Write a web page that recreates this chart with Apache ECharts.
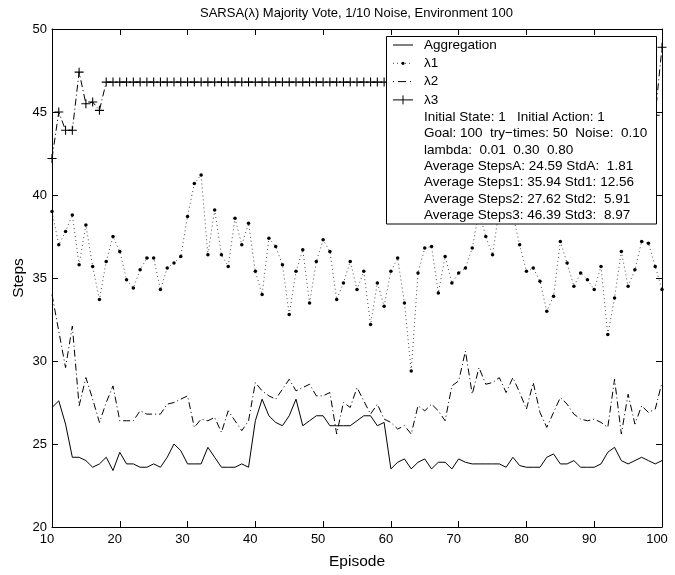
<!DOCTYPE html>
<html>
<head>
<meta charset="utf-8">
<script src="https://cdn.jsdelivr.net/npm/echarts@6/dist/echarts.min.js"></script>
<style>
  html, body { margin: 0; padding: 0; background: #fff; }
  #chart { width: 675px; height: 575px; }
</style>
</head>
<body>
<div id="chart"></div>
<script>
// SARSA(λ) 多数表决 - 各策略每回合步数

const episodes = [10, 11, 12, 13, 14, 15, 16, 17, 18, 19, 20, 21, 22, 23, 24, 25, 26, 27, 28, 29,
    30, 31, 32, 33, 34, 35, 36, 37, 38, 39, 40, 41, 42, 43, 44, 45, 46, 47, 48, 49,
    50, 51, 52, 53, 54, 55, 56, 57, 58, 59, 60, 61, 62, 63, 64, 65, 66, 67, 68, 69,
    70, 71, 72, 73, 74, 75, 76, 77, 78, 79, 80, 81, 82, 83, 84, 85, 86, 87, 88, 89,
    90, 91, 92, 93, 94, 95, 96, 97, 98, 99, 100];

const aggregation = [27.2, 27.6, 26.2, 24.2, 24.2, 24.0, 23.6, 23.8, 24.2, 23.4,
    24.5, 23.8, 23.8, 23.6, 23.6, 23.8, 23.6, 24.2, 25.0, 24.6,
    23.8, 23.8, 23.8, 24.8, 24.2, 23.6, 23.6, 23.6, 23.8, 23.6,
    26.4, 27.7, 26.7, 26.3, 26.1, 26.7, 27.7, 26.1, 26.4, 26.7,
    26.7, 26.1, 26.1, 26.1, 26.1, 26.4, 26.7, 26.7, 26.1, 26.3,
    23.5, 23.9, 24.1, 23.5, 23.9, 24.1, 23.5, 23.9, 23.9, 23.5,
    24.1, 23.9, 23.8, 23.8, 23.8, 23.8, 23.8, 23.6, 24.2, 23.7,
    23.6, 23.6, 23.6, 24.2, 24.4, 23.8, 23.8, 24.0, 23.6, 23.6,
    23.6, 23.8, 24.5, 24.8, 24.0, 23.8, 24.0, 24.2, 24.0, 23.8,
    24.0];

const lambda1 = [39.0, 37.0, 37.8, 38.8, 35.8, 38.2, 35.7, 33.7, 36.0, 37.5,
    36.6, 34.9, 34.4, 35.5, 36.2, 36.2, 34.3, 35.6, 35.9, 36.3,
    38.7, 40.7, 41.2, 36.4, 39.1, 36.4, 35.7, 38.6, 37.0, 38.3,
    35.4, 34.0, 37.4, 36.9, 35.8, 32.8, 35.4, 36.7, 33.5, 36.0,
    37.3, 36.6, 33.7, 34.7, 36.0, 34.3, 35.4, 32.2, 34.7, 33.3,
    35.4, 36.2, 33.5, 29.4, 35.3, 36.8, 36.9, 34.1, 36.3, 34.7,
    35.3, 35.6, 36.8, 39.0, 37.5, 36.4, 39.2, 39.6, 38.8, 37.0,
    35.4, 35.6, 34.8, 33.0, 33.9, 37.2, 35.9, 34.5, 35.3, 34.9,
    34.3, 35.7, 31.6, 33.8, 36.6, 34.5, 35.5, 37.2, 37.1, 35.7,
    34.3];

const lambda2 = [34.0, 31.8, 29.6, 32.1, 27.3, 29.0, 27.7, 26.3, 27.5, 28.5,
    26.4, 26.4, 26.4, 27.0, 26.8, 26.8, 26.8, 27.4, 27.5, 27.7,
    27.9, 26.0, 26.5, 26.4, 26.6, 25.7, 27.0, 26.4, 25.8, 26.4,
    28.7, 28.2, 27.9, 27.7, 28.3, 28.9, 28.2, 28.4, 28.6, 27.9,
    27.9, 28.1, 25.6, 27.5, 27.2, 28.4, 27.6, 26.8, 27.4, 26.5,
    26.3, 25.9, 26.1, 25.6, 27.3, 27.0, 27.4, 27.0, 26.4, 28.5,
    28.8, 30.6, 28.0, 29.6, 28.6, 28.7, 29.0, 28.1, 29.0, 28.1,
    27.1, 28.7, 26.9, 26.0, 26.9, 27.8, 27.4, 26.8, 26.5, 26.4,
    26.5, 26.3, 26.0, 28.9, 25.6, 28.0, 26.2, 27.3, 26.9, 27.1,
    28.7];

const lambda3 = [42.2, 45.0, 43.9, 43.9, 47.4, 45.5, 45.6, 45.1, 46.8, 46.8,
    46.8, 46.8, 46.8, 46.8, 46.8, 46.8, 46.8, 46.8, 46.8, 46.8,
    46.8, 46.8, 46.8, 46.8, 46.8, 46.8, 46.8, 46.8, 46.8, 46.8,
    46.8, 46.8, 46.8, 46.8, 46.8, 46.8, 46.8, 46.8, 46.8, 46.8,
    46.8, 46.8, 46.8, 46.8, 46.8, 46.8, 46.8, 46.8, 46.8, 46.8,
    46.8, 46.8, 46.8, 46.8, 46.8, 46.8, 46.8, 46.8, 46.8, 46.8,
    46.8, 46.8, 46.8, 46.8, 46.8, 46.8, 46.8, 46.8, 46.8, 46.8,
    46.8, 46.8, 46.8, 46.8, 46.8, 46.8, 46.8, 46.8, 46.8, 46.8,
    46.8, 46.8, 46.8, 46.8, 46.8, 46.8, 46.8, 46.8, 46.8, 44.8,
    48.9];

const seriesNames = ['Aggregation', 'λ1', 'λ2', 'λ3'];

const infoLines = [
    'Initial State: 1   Initial Action: 1',
    'Goal: 100  try\u2212times: 50  Noise:  0.10',
    'lambda:  0.01  0.30  0.80',
    'Average StepsA: 24.59 StdA:  1.81',
    'Average Steps1: 35.94 Std1: 12.56',
    'Average Steps2: 27.62 Std2:  5.91',
    'Average Steps3: 46.39 Std3:  8.97'
];

const FONT = '"Liberation Sans", Arial, Helvetica, sans-serif';
const PLUS = 'path://M0,4.4H10V5.6H0ZM4.4,0H5.6V10H4.4Z';
const DASHDOT = [7, 3, 1, 3];

function pairs(ys) {
    return episodes.map(function (x, i) { return [x, ys[i]]; });
}

function initChart() {
    const chart = echarts.init(document.getElementById('chart'), null, { renderer: 'canvas' });

    // 图例框（手绘，位置按原图）
    const boxX = 386.5, boxY = 36.5;
    const sampleX1 = 393, sampleX2 = 413, textX = 424;
    const entryY = [45, 63.3, 81.6, 99.9];
    const graphics = [
        {
            type: 'rect', z: 100,
            shape: { x: boxX, y: boxY, width: 270, height: 187.5 },
            style: { fill: '#fff', stroke: '#000', lineWidth: 1 }
        },
        // Aggregation
        { type: 'line', z: 101, shape: { x1: sampleX1, y1: entryY[0], x2: sampleX2, y2: entryY[0] },
          style: { stroke: '#000', lineWidth: 1 } },
        // λ1
        { type: 'line', z: 101, shape: { x1: sampleX1, y1: entryY[1], x2: sampleX2, y2: entryY[1] },
          style: { stroke: '#000', lineWidth: 1, lineDash: [1, 3], opacity: 0.7 } },
        { type: 'circle', z: 101, shape: { cx: 403, cy: entryY[1], r: 1.6 }, style: { fill: '#000' } },
        // λ2
        { type: 'line', z: 101, shape: { x1: sampleX1, y1: entryY[2], x2: sampleX2, y2: entryY[2] },
          style: { stroke: '#000', lineWidth: 1, lineDash: [1, 4, 8, 4] } },
        // λ3
        { type: 'line', z: 101, shape: { x1: sampleX1, y1: entryY[3], x2: sampleX2, y2: entryY[3] },
          style: { stroke: '#000', lineWidth: 1 } },
        { type: 'line', z: 101, shape: { x1: 403, y1: entryY[3] - 4.5, x2: 403, y2: entryY[3] + 4.5 },
          style: { stroke: '#000', lineWidth: 1 } }
    ];
    seriesNames.forEach(function (name, i) {
        graphics.push({
            type: 'text', z: 101, x: textX, y: entryY[i],
            style: { text: name, fill: '#000', font: '13.5px ' + FONT, align: 'left', verticalAlign: 'middle' }
        });
    });
    infoLines.forEach(function (line, i) {
        graphics.push({
            type: 'text', z: 101, x: textX, y: 117.3 + i * 16.3,
            style: { text: line, fill: '#000', font: '13.5px ' + FONT, align: 'left', verticalAlign: 'middle' }
        });
    });

    const axisCommon = {
        type: 'value',
        axisLine: { show: true, onZero: false, lineStyle: { color: '#000', width: 1 } },
        axisTick: { show: true, inside: true, length: 6, lineStyle: { color: '#000', width: 1 } },
        splitLine: { show: false }
    };

    const option = {
        animation: false,
        backgroundColor: '#fff',
        textStyle: { fontFamily: FONT },
        title: {
            text: 'SARSA(λ) Majority Vote, 1/10 Noise, Environment 100',
            left: 200,
            top: 7,
            padding: 0,
            textStyle: { fontFamily: FONT, fontSize: 13, fontWeight: 'normal', color: '#000' }
        },
        grid: { left: 52, right: 13, top: 29, bottom: 46, containLabel: false },
        xAxis: [
            Object.assign({}, axisCommon, {
                min: 10, max: 100, interval: 10,
                position: 'bottom',
                name: 'Episode',
                nameLocation: 'middle',
                nameGap: 27,
                nameMoveOverlap: false,
                nameTextStyle: { fontFamily: FONT, fontSize: 15.5, color: '#000' },
                axisLabel: { color: '#000', fontSize: 13, margin: 6, fontFamily: FONT, padding: [0, 10, 0, 0] }
            }),
            Object.assign({}, axisCommon, {
                min: 10, max: 100, interval: 10,
                position: 'top',
                axisLabel: { show: false }
            })
        ],
        yAxis: [
            Object.assign({}, axisCommon, {
                min: 20, max: 50, interval: 5,
                position: 'left',
                name: 'Steps',
                nameLocation: 'middle',
                nameGap: 25,
                nameMoveOverlap: false,
                nameTextStyle: { fontFamily: FONT, fontSize: 15.5, color: '#000' },
                axisLabel: { color: '#000', fontSize: 13, margin: 5, fontFamily: FONT }
            }),
            Object.assign({}, axisCommon, {
                min: 20, max: 50, interval: 5,
                position: 'right',
                axisLabel: { show: false }
            })
        ],
        graphic: graphics,
        series: [
            {
                name: seriesNames[0],
                type: 'line',
                data: pairs(aggregation),
                symbol: 'none',
                lineStyle: { color: '#000', width: 1 }
            },
            {
                name: seriesNames[1],
                type: 'line',
                data: pairs(lambda1),
                symbol: 'circle',
                symbolSize: 3.5,
                itemStyle: { color: '#000' },
                lineStyle: { color: '#000', width: 1, type: [1, 3], opacity: 0.7 }
            },
            {
                name: seriesNames[2],
                type: 'line',
                data: pairs(lambda2),
                symbol: 'none',
                lineStyle: { color: '#000', width: 1, type: DASHDOT }
            },
            {
                name: seriesNames[3],
                type: 'line',
                data: pairs(lambda3),
                symbol: PLUS,
                symbolSize: 9,
                itemStyle: { color: '#000' },
                lineStyle: { color: '#000', width: 1, type: DASHDOT }
            }
        ]
    };

    chart.setOption(option);
    return chart;
}

document.addEventListener('DOMContentLoaded', function () {
    if (typeof echarts !== 'undefined') {
        initChart();
    } else {
        console.error('ECharts library not loaded');
    }
});
</script>
</body>
</html>
